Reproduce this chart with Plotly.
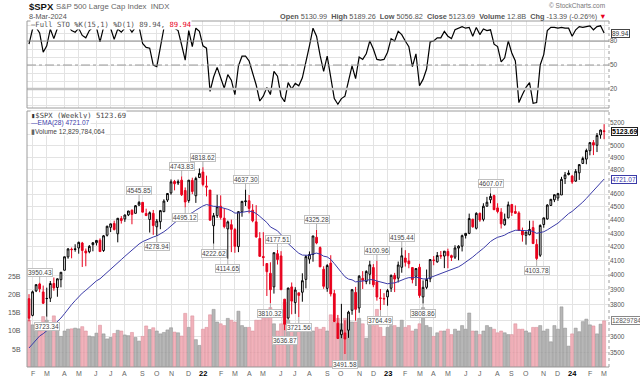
import math
import pandas as pd
import plotly.graph_objects as go

W, H = 640, 380
def px(x): return x / W
def py(y): return 1 - y / H

# ---------------- data ----------------
START = pd.Timestamp("2021-01-29")
N_WEEKS = 163
week_dates = [START + pd.Timedelta(days=7 * i) for i in range(N_WEEKS)]
PREV_CLOSE = 3841.47

open_ = [
    3841, 3732, 3893, 3940, 3886, 3843, 3844, 3943, 3916, 3969,
    4034, 4128, 4183, 4186, 4192, 4228, 4170, 4165, 4216, 4230,
    4248, 4174, 4285, 4344, 4373, 4296, 4410, 4407, 4438, 4474,
    4450, 4514, 4535, 4449, 4403, 4450, 4348, 4386, 4463, 4553,
    4610, 4701, 4689, 4712, 4629, 4549, 4710, 4587, 4733, 4778,
    4655, 4632, 4356, 4432, 4505, 4413, 4332, 4364, 4327, 4202,
    4462, 4541, 4548, 4474, 4385, 4261, 4131, 4081, 4013, 3920,
    4151, 4135, 3838, 3715, 3920, 3815, 3880, 3884, 3971, 4112,
    4145, 4270, 4195, 4041, 3910, 4084, 3875, 3682, 3610, 3621,
    3638, 3765, 3883, 3780, 3978, 3956, 4006, 4053, 3954, 3843,
    3843, 3853, 3911, 3999, 3979, 4055, 4120, 4099, 4053, 3992,
    4055, 3853, 3917, 3975, 4102, 4093, 4138, 4134, 4167, 4137,
    4126, 4191, 4205, 4283, 4299, 4405, 4337, 4450, 4404, 4505,
    4555, 4588, 4492, 4459, 4364, 4415, 4518, 4464, 4453, 4320,
    4284, 4289, 4342, 4218, 4140, 4365, 4407, 4511, 4555, 4569,
    4593, 4725, 4758, 4745, 4704, 4772, 4850, 4886, 4957, 5027,
    5004, 5094, 5130.99,
]
high = [
    3871, 3895, 3937, 3950.43, 3929, 3915, 3960, 3984, 3978, 4021,
    4129, 4191, 4195, 4219, 4238, 4236, 4188, 4213, 4234, 4249,
    4262, 4287, 4356, 4372, 4394, 4415, 4429, 4441, 4469, 4480,
    4513, 4545.85, 4535, 4486, 4465, 4476, 4407, 4476, 4559, 4608,
    4718, 4714, 4717, 4743.83, 4653, 4713, 4732, 4740, 4808, 4818.62,
    4749, 4632, 4453, 4595, 4590, 4490, 4395, 4402, 4340, 4465,
    4546, 4637.30, 4593, 4521, 4513, 4308, 4308, 4081, 4090, 4160,
    4177.51, 4169, 3838, 3914, 3950, 3918, 3880, 4013, 4141, 4167,
    4280, 4325.28, 4203, 4062, 4077, 4140, 3900, 3735, 3807, 3701,
    3762, 3906, 3920, 4001, 4028, 4034, 4100.51, 4077, 4100.96, 3906,
    3878, 3906, 4004, 4016, 4095, 4195.44, 4176, 4156, 4053, 4049,
    4079, 3964, 4039, 4110, 4134, 4163, 4170, 4170, 4187, 4144,
    4212, 4212, 4290, 4299, 4448, 4408, 4458, 4456, 4528, 4578,
    4607.07, 4595, 4528, 4490, 4448, 4541, 4523, 4511, 4466, 4342,
    4310, 4394, 4394, 4256, 4366, 4418, 4521, 4561, 4597, 4610,
    4739, 4779, 4793, 4755, 4803, 4843, 4907, 4975, 5031, 5049,
    5111, 5141, 5189.26,
]
low = [
    3694, 3726, 3885, 3884, 3806, 3723.34, 3819, 3894, 3854, 3917,
    4034, 4115, 4118, 4165, 4151, 4057, 4062, 4154, 4168, 4210,
    4165, 4164, 4276, 4309, 4321, 4233, 4372, 4385, 4429, 4367,
    4450, 4506, 4458, 4429, 4305, 4288, 4278.94, 4330, 4459, 4538,
    4595, 4630, 4673, 4585, 4495.12, 4532, 4600, 4531, 4733, 4662,
    4582, 4395, 4222.62, 4415, 4402, 4336, 4114.65, 4162, 4157, 4162,
    4424, 4507, 4450, 4382, 4268, 4129, 4063, 3859, 3810.32, 3875,
    4074, 3901, 3636.87, 3705, 3739, 3742, 3721.56, 3821, 3910, 4080,
    4094, 4219, 4057, 3907, 3887, 3856, 3693, 3584, 3588, 3491.58,
    3590, 3736, 3698, 3749, 3906, 3938, 3938, 3918, 3828, 3764.49,
    3800, 3795, 3886, 3885, 3950, 4017, 4060, 4048, 3944, 3926,
    3847, 3808.86, 3905, 3952, 4069, 4087, 4114, 4049, 4048, 4099,
    4113, 4104, 4167, 4261, 4293, 4341, 4328, 4385, 4389, 4503,
    4528, 4475, 4450, 4335, 4356, 4412, 4430, 4447, 4317, 4238,
    4216, 4284, 4223, 4103.78, 4128, 4341, 4402, 4507, 4537, 4547,
    4593, 4681, 4751, 4682, 4699, 4714, 4845, 4843, 4918, 4920,
    4946, 5061, 5056.82,
]
close = [
    3714, 3887, 3935, 3907, 3811, 3842, 3943, 3913, 3975, 4020,
    4129, 4185, 4180, 4181, 4233, 4174, 4156, 4204, 4230, 4247,
    4166, 4281, 4352, 4370, 4327, 4412, 4395, 4437, 4468, 4442,
    4509, 4535, 4459, 4433, 4455, 4357, 4391, 4471, 4545, 4605,
    4698, 4683, 4698, 4595, 4538, 4712, 4621, 4726, 4766, 4677,
    4663, 4398, 4432, 4501, 4419, 4349, 4385, 4329, 4204, 4463,
    4543, 4546, 4488, 4393, 4272, 4132, 4123, 4024, 3901, 4158,
    4109, 3901, 3675, 3912, 3825, 3899, 3863, 3962, 4130, 4145,
    4280, 4228, 4058, 3924, 4067, 3873, 3693, 3586, 3640, 3583,
    3753, 3901, 3771, 3993, 3965, 4026, 4072, 3934, 3852, 3845,
    3840, 3895, 3999, 3973, 4071, 4136, 4090, 4079, 3970, 4046,
    3862, 3917, 3971, 4109, 4105, 4138, 4134, 4169, 4136, 4124,
    4192, 4205, 4282, 4299, 4410, 4348, 4450, 4399, 4505, 4536,
    4582, 4478, 4464, 4370, 4406, 4516, 4457, 4450, 4320, 4288,
    4309, 4328, 4224, 4117, 4358, 4415, 4514, 4559, 4595, 4604,
    4719, 4755, 4770, 4697, 4784, 4840, 4891, 4959, 5027, 5006,
    5089, 5137, 5123.69,
]
volume_b = [
    13.0, 11.7, 10.3, 10.0, 14.0, 13.0, 11.2, 14.2, 10.5, 8.5,
    10.0, 10.5, 10.6, 10.8, 10.6, 11.2, 10.0, 8.6, 8.4, 9.4,
    11.6, 9.2, 7.8, 8.2, 9.3, 10.2, 10.0, 8.9, 8.7, 9.6,
    8.2, 7.2, 8.5, 11.4, 10.4, 10.9, 10.0, 9.2, 9.6, 10.3,
    10.9, 9.7, 9.5, 8.6, 14.9, 11.0, 14.2, 7.6, 6.0, 10.5,
    11.0, 14.5, 16.0, 12.5, 12.0, 11.5, 13.5, 13.0, 12.5, 15.5,
    11.5, 11.0, 11.0, 10.0, 13.0, 13.0, 14.5, 15.0, 16.5, 12.0,
    10.0, 12.0, 18.0, 13.0, 10.5, 10.0, 11.0, 11.5, 11.5, 10.5,
    10.0, 11.0, 10.5, 11.0, 10.0, 14.5, 12.5, 13.5, 12.0, 13.5,
    13.0, 12.5, 12.5, 13.5, 12.0, 8.0, 12.5, 11.5, 16.0, 11.0,
    8.5, 11.0, 11.5, 11.5, 11.0, 13.0, 11.0, 11.5, 10.0, 10.5,
    12.0, 16.5, 11.5, 11.0, 8.5, 9.5, 10.0, 10.0, 10.5, 9.0,
    10.5, 10.0, 11.5, 10.5, 15.0, 10.0, 10.0, 9.0, 10.0, 11.5,
    11.0, 10.5, 9.5, 10.0, 9.5, 9.0, 9.0, 12.0, 10.5, 10.5,
    10.0, 9.5, 11.0, 11.0, 11.5, 10.0, 10.5, 7.0, 11.5, 10.5,
    16.7, 10.8, 5.8, 9.2, 10.8, 9.8, 12.6, 13.3, 11.7, 11.4,
    9.2, 11.9, 12.83,
]
ema28 = [
    3528, 3553, 3579, 3602, 3616, 3632, 3653, 3671, 3692, 3715,
    3743, 3774, 3802, 3828, 3856, 3878, 3897, 3918, 3940, 3961,
    3975, 3996, 4021, 4045, 4064, 4088, 4109, 4132, 4155, 4175,
    4198, 4221, 4238, 4251, 4265, 4272, 4280, 4293, 4311, 4331,
    4356, 4379, 4401, 4414, 4423, 4443, 4455, 4474, 4494, 4507,
    4518, 4509, 4504, 4504, 4498, 4488, 4481, 4470, 4452, 4453,
    4459, 4465, 4467, 4462, 4449, 4427, 4406, 4380, 4347, 4334,
    4318, 4289, 4247, 4224, 4196, 4176, 4154, 4141, 4140, 4140,
    4150, 4155, 4148, 4133, 4128, 4110, 4081, 4047, 4019, 3989,
    3973, 3968, 3954, 3957, 3958, 3963, 3970, 3968, 3960, 3952,
    3944, 3941, 3945, 3947, 3956, 3968, 3976, 3983, 3982, 3987,
    3978, 3974, 3974, 3983, 3991, 4001, 4010, 4021, 4029, 4036,
    4047, 4058, 4073, 4089, 4111, 4127, 4149, 4167, 4190, 4214,
    4239, 4256, 4270, 4277, 4286, 4302, 4312, 4322, 4322, 4319,
    4319, 4319, 4313, 4299, 4303, 4311, 4325, 4341, 4358, 4375,
    4399, 4424, 4448, 4465, 4487, 4511, 4537, 4566, 4598, 4626,
    4658, 4691, 4721.07,
]
sto_k = [
    76, 95, 97, 90, 66, 74, 95, 83, 96, 98,
    100, 99, 93, 91, 96, 87, 84, 93, 97, 97,
    79, 97, 99, 96, 82, 95, 91, 96, 98, 91,
    97, 98, 77, 72, 71, 50, 48, 72, 96, 100,
    100, 96, 93, 75, 56, 93, 73, 96, 92, 74,
    71, 17, 35, 47, 33, 21, 38, 31, 13, 49,
    61, 61, 55, 41, 25, 5, 11, 22, 13, 42,
    36, 11, 4, 28, 20, 27, 24, 34, 53, 74,
    96, 86, 62, 42, 61, 34, 8, 1, 8, 11,
    31, 49, 33, 60, 57, 64, 80, 70, 57, 56,
    57, 66, 83, 80, 92, 88, 80, 73, 48, 64,
    24, 32, 45, 79, 80, 84, 84, 92, 86, 83,
    94, 96, 98, 96, 97, 86, 97, 88, 95, 93,
    94, 76, 73, 54, 59, 80, 65, 55, 3, 13,
    22, 28, 2, 3, 50, 63, 93, 97, 97, 96,
    97, 96, 96, 86, 94, 98, 97, 98, 99, 94,
    98, 99, 89.94,
]
price_ticks = [3500, 3600, 3700, 3800, 3900, 4000, 4100, 4200, 4300, 4400,
               4500, 4600, 4700, 4800, 4900, 5000, 5100, 5200]
# tick labels hidden behind the value boxes on the right edge
price_ticks_hidden = [3700, 4700, 5100]
volume_ticks = [5e9, 10e9, 15e9, 20e9, 25e9]
volume_tick_text = ["5B", "10B", "15B", "20B", "25B"]
# (week index, value, 'h' high / 'l' low)
price_labels = [
    (3, 3950.43, "h"), (5, 3723.34, "l"), (31, 4545.85, "h"), (36, 4278.94, "l"),
    (43, 4743.83, "h"), (44, 4495.12, "l"), (49, 4818.62, "h"), (52, 4222.62, "l"),
    (56, 4114.65, "l"), (61, 4637.30, "h"), (68, 3810.32, "l"), (70, 4177.51, "h"),
    (72, 3636.87, "l"), (76, 3721.56, "l"), (81, 4325.28, "h"), (89, 3491.58, "l"),
    (98, 4100.96, "h"), (99, 3764.49, "l"), (105, 4195.44, "h"), (111, 3808.86, "l"),
    (130, 4607.07, "h"), (143, 4103.78, "l"),
]

# ---------------- derived styling ----------------
N = len(close)
prev = [PREV_CLOSE] + close[:-1]
up_idx = [i for i in range(N) if close[i] >= prev[i]]
dn_idx = [i for i in range(N) if close[i] < prev[i]]
def sub(arr, idx): return [arr[i] for i in idx]

RED = "#e8001c"
BLUE = "#3b3ba8"
FONT = "Liberation Sans, Arial, sans-serif"
MONO = "DejaVu Sans Mono, monospace"

fig = go.Figure()

# volume (base axis y2)
vol_colors = ["rgba(170,170,170,0.85)" if close[i] >= prev[i] else "rgba(238,165,175,0.85)" for i in range(N)]
vol_lines = ["#8c8c8c" if close[i] >= prev[i] else "#d98a96" for i in range(N)]
fig.add_trace(go.Bar(
    x=week_dates, y=[v * 1e9 for v in volume_b], xaxis="x", yaxis="y2",
    marker=dict(color=vol_colors, line=dict(color=vol_lines, width=0.5)),
    width=0.86 * 7 * 86400000, showlegend=False, hoverinfo="skip"))

# candles: black (close >= prev close) and red (close < prev close)
fig.add_trace(go.Candlestick(
    x=sub(week_dates, up_idx), open=sub(open_, up_idx), high=sub(high, up_idx),
    low=sub(low, up_idx), close=sub(close, up_idx), xaxis="x", yaxis="y3",
    increasing=dict(line=dict(color="black", width=1), fillcolor="white"),
    decreasing=dict(line=dict(color="black", width=1), fillcolor="black"),
    showlegend=False, hoverinfo="skip"))
fig.add_trace(go.Candlestick(
    x=sub(week_dates, dn_idx), open=sub(open_, dn_idx), high=sub(high, dn_idx),
    low=sub(low, dn_idx), close=sub(close, dn_idx), xaxis="x", yaxis="y3",
    increasing=dict(line=dict(color=RED, width=1), fillcolor="white"),
    decreasing=dict(line=dict(color=RED, width=1), fillcolor=RED),
    showlegend=False, hoverinfo="skip"))

# EMA
fig.add_trace(go.Scatter(x=week_dates, y=ema28, xaxis="x", yaxis="y3", mode="lines",
                         line=dict(color=BLUE, width=1), showlegend=False, hoverinfo="skip"))
# Stochastic
fig.add_trace(go.Scatter(x=week_dates, y=sto_k, xaxis="x", yaxis="y", mode="lines",
                         line=dict(color="black", width=1.2), showlegend=False, hoverinfo="skip"))

# ---------------- axes ----------------
tick_vals, tick_text = [], []
for i in range(1, N):
    m = week_dates[i] - pd.Timedelta(days=4)
    pm = week_dates[i - 1] - pd.Timedelta(days=4)
    if m.month != pm.month:
        tick_vals.append(week_dates[i])
        if m.month == 1:
            tick_text.append(f"<b>{m.year % 100:02d}</b>")
        else:
            tick_text.append("JFMAMJJASOND"[m.month - 1])

PXW = 3.55
x0 = START + pd.Timedelta(days=7 * (27 - 29) / PXW)
x1 = START + pd.Timedelta(days=7 * (609 - 29) / PXW)

GRID = "#e3e3e3"
p_lo = 5200 * math.exp(-(367 - 123) / 580)
p_hi = 5200 * math.exp((123 - 111) / 580)

fig.update_layout(
    width=W, height=H, margin=dict(l=0, r=0, t=0, b=0),
    paper_bgcolor="white", plot_bgcolor="white",
    showlegend=False, boxmode="overlay", hovermode=False,
    font=dict(family=FONT, size=7, color="#444"),
    xaxis=dict(domain=[px(27), px(609)], anchor="y2", type="date", range=[x0, x1],
               tickmode="array", tickvals=tick_vals, showticklabels=False, ticks="",
               showgrid=True, gridcolor=GRID, gridwidth=1, zeroline=False,
               showline=False, rangeslider=dict(visible=False)),
    yaxis=dict(domain=[py(108), py(21)], anchor="x", side="right", range=[-3.75, 105],
               tickmode="array", tickvals=[0, 10, 20, 30, 40, 50, 60, 70, 80, 90, 100],
               ticktext=["", "", "20", "", "", "50", "", "", "80", "", ""],
               tickfont=dict(size=6.5, color="#555", family=FONT), ticks="", ticklen=0,
               showgrid=True, gridcolor=GRID, zeroline=False, showline=False),
    yaxis2=dict(domain=[py(367), py(111)], anchor="x", side="left", range=[0, 71.1e9],
                showticklabels=False, ticks="", showgrid=False, zeroline=False, showline=False),
    yaxis3=dict(overlaying="y2", anchor="x", side="right", type="log",
                range=[math.log10(p_lo), math.log10(p_hi)],
                tickmode="array", tickvals=price_ticks,
                ticktext=["" if t in price_ticks_hidden else str(t) for t in price_ticks],
                tickfont=dict(size=6.5, color="#555", family=FONT), ticks="", ticklen=0,
                showgrid=True, gridcolor=GRID, zeroline=False, showline=False),
)

# ---------------- shapes ----------------
shapes = []
shapes.append(dict(type="line", xref="x domain", yref="y", x0=0, x1=1, y0=80, y1=80,
                   line=dict(color="#8a8a8a", width=1)))
shapes.append(dict(type="line", xref="x domain", yref="y", x0=0, x1=1, y0=50, y1=50,
                   line=dict(color="#9a9a9a", width=1, dash="dashdot")))
shapes.append(dict(type="line", xref="x domain", yref="y", x0=0, x1=1, y0=20, y1=20,
                   line=dict(color="#c4c4c4", width=2.5)))
FR = "#9c9c9c"
for (t, b) in [(21, 108), (111, 367)]:
    shapes.append(dict(type="line", xref="paper", yref="paper", x0=px(27), x1=px(609),
                       y0=py(t), y1=py(t), line=dict(color=FR, width=1)))
    shapes.append(dict(type="line", xref="paper", yref="paper", x0=px(27), x1=px(609),
                       y0=py(b), y1=py(b), line=dict(color=FR, width=1)))
    shapes.append(dict(type="line", xref="paper", yref="paper", x0=px(27), x1=px(27),
                       y0=py(b), y1=py(t), line=dict(color=FR, width=1)))
    shapes.append(dict(type="line", xref="paper", yref="paper", x0=px(609), x1=px(609),
                       y0=py(b), y1=py(t), line=dict(color=FR, width=1, dash="dot")))
fig.update_layout(shapes=shapes)

# ---------------- annotations ----------------
ann = []
def txt(x, y, text, size=7, color="#444", anchor="left", bold=False, bg=None, family=FONT):
    t = f"<b>{text}</b>" if bold else text
    d = dict(xref="paper", yref="paper", x=px(x), y=py(y), text=t, showarrow=False,
             xanchor=anchor, yanchor="middle", font=dict(size=size, color=color, family=family))
    if bg:
        d["bgcolor"] = bg
        d["borderpad"] = 0
    ann.append(d)

# x-axis month labels
for v, t in zip(tick_vals, tick_text):
    is_year = t.startswith("<b>")
    ann.append(dict(xref="x", yref="paper", x=v, y=py(373), text=t, showarrow=False,
                    xanchor="center", yanchor="middle",
                    font=dict(size=7.5 if is_year else 7, color="#000" if is_year else "#666",
                              family=FONT)))
# left volume axis labels
for v, t in zip(volume_ticks, volume_tick_text):
    ann.append(dict(xref="paper", yref="y2", x=px(23), y=v, text=t, showarrow=False,
                    xanchor="right", yanchor="middle",
                    font=dict(size=7, color="#555", family=FONT)))

# header
txt(27, 6.5, "$SPX", size=9.5, color="#111", bold=True)
txt(54, 7, "S&P 500 Large Cap Index  INDX", size=7.8, color="#666")
txt(27, 16, "8-Mar-2024", size=7.3, color="#555")
txt(608, 16, "<b>Open</b> 5130.99  <b>High</b> 5189.26  <b>Low</b> 5056.82  <b>Close</b> 5123.69  "
             "<b>Volume</b> 12.8B  <b>Chg</b> -13.39 (-0.26%) <span style='color:#e8001c'>▼</span>",
    size=7.3, color="#555", anchor="right")
txt(607, 5, "© StockCharts.com", size=6.5, color="#777", anchor="right")

# stochastic legend
txt(30, 25, "<span style='color:#111'>—</span>Full STO %K(15,1) %D(1) 89.94, "
            "<span style='color:#e8001c'>89.94</span>", size=7.2, color="#555", bg="white", family=MONO)
# main legend
txt(30, 115.5, "<span style='color:#333'>▮</span>$SPX (Weekly) 5123.69", size=7.2, color="#444",
    bg="white", family=MONO)
txt(30, 123.5, "—EMA(28) 4721.07", size=6.6, color=BLUE, bg="white")
txt(30, 131.5, "<span style='color:#666'>▮</span>Volume 12,829,784,064", size=6.6, color="#444", bg="white")

# price high/low labels
for (i, val, kind) in price_labels:
    ann.append(dict(xref="x", yref="y3", x=week_dates[i], y=math.log10(val),
                    text=f"{val:.2f}", showarrow=True, arrowhead=0, arrowwidth=1,
                    arrowcolor="#b0b0b0", ax=0, ay=(-10 if kind == "h" else 10),
                    bgcolor="white", bordercolor="#c0c0c0", borderwidth=1, borderpad=0,
                    font=dict(size=6.5, color="#444", family=FONT)))

# right-side value boxes
ann.append(dict(xref="paper", yref="y3", x=px(611), y=math.log10(close[-1]),
                text=f"<b>{close[-1]:.2f}</b>", showarrow=False, xanchor="left", yanchor="middle",
                bgcolor="white", bordercolor="#222", borderwidth=1, borderpad=0,
                font=dict(size=7, color="#000", family=FONT)))
ann.append(dict(xref="paper", yref="y3", x=px(611), y=math.log10(ema28[-1]),
                text=f"{ema28[-1]:.2f}", showarrow=False, xanchor="left", yanchor="middle",
                bgcolor="white", bordercolor=BLUE, borderwidth=1, borderpad=0,
                font=dict(size=6.5, color=BLUE, family=FONT)))
ann.append(dict(xref="paper", yref="y2", x=px(611), y=volume_b[-1] * 1e9,
                text="12829784064", showarrow=False, xanchor="left", yanchor="middle",
                bgcolor="white", bordercolor="#888", borderwidth=1, borderpad=0,
                font=dict(size=6.5, color="#555", family=FONT)))
ann.append(dict(xref="paper", yref="y", x=px(611), y=sto_k[-1],
                text=f"{sto_k[-1]:.2f}", showarrow=False, xanchor="left", yanchor="middle",
                bgcolor="white", bordercolor="#444", borderwidth=1, borderpad=0,
                font=dict(size=6.5, color="#333", family=FONT)))

fig.update_layout(annotations=ann)
fig.write_html("out.html", config={"displayModeBar": False},
               post_script="document.body.style.margin='0px';document.body.style.padding='0px';")
